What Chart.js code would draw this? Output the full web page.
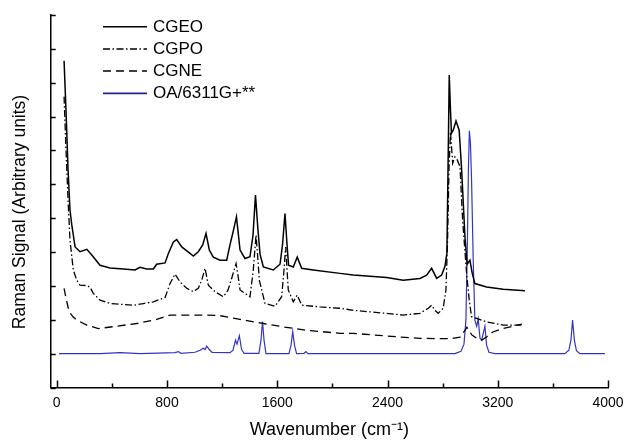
<!DOCTYPE html>
<html>
<head>
<meta charset="utf-8">
<script src="https://cdn.jsdelivr.net/npm/chart.js@4"></script>
<style>
  html, body { margin: 0; padding: 0; background: #fff; }
  #c { display: block; }
</style>
</head>
<body>
<canvas id="c" width="627" height="441"></canvas>
<script>
// ---- data (wavenumber in cm^-1, Raman signal in arbitrary offset units) ----
const seriesNames = ["CGEO", "CGPO", "CGNE", "OA/6311G+**"];

const cgeoX = [53, 67, 82, 96, 109, 133, 169, 218, 254, 314, 387, 483, 568, 604, 653, 701, 725, 786, 810, 846, 870, 907, 967, 991, 1027, 1059, 1083, 1107, 1136, 1185, 1233, 1257, 1279, 1304, 1330, 1366, 1402, 1424, 1442, 1460, 1475, 1499, 1571, 1620, 1638, 1656, 1671, 1682, 1716, 1745, 1777, 1861, 2055, 2152, 2394, 2514, 2635, 2684, 2720, 2757, 2793, 2817, 2831, 2841, 2848, 2857, 2864, 2877, 2897, 2920, 2938, 2962, 2978, 2998, 3015, 3034, 3119, 3240, 3397];
const cgeoY = [8.65, 7.19, 5.42, 4.24, 3.80, 3.15, 3.01, 3.08, 2.91, 2.61, 2.53, 2.50, 2.47, 2.55, 2.50, 2.50, 2.64, 2.68, 2.96, 3.30, 3.37, 3.15, 2.96, 2.88, 3.01, 3.21, 3.55, 3.06, 2.85, 2.76, 2.76, 3.21, 3.59, 4.04, 3.06, 2.81, 2.86, 3.50, 4.68, 3.65, 2.94, 2.56, 2.47, 2.64, 3.21, 4.14, 3.21, 2.61, 2.56, 2.85, 2.52, 2.47, 2.37, 2.32, 2.25, 2.17, 2.22, 2.32, 2.52, 2.22, 2.32, 2.58, 2.97, 6.01, 8.23, 7.19, 6.51, 6.60, 6.87, 6.60, 5.42, 3.45, 2.64, 2.76, 2.37, 2.07, 1.97, 1.90, 1.86];

const cgpoX = [53, 67, 82, 96, 120, 145, 169, 218, 242, 265, 314, 387, 483, 556, 628, 701, 786, 822, 858, 894, 943, 991, 1027, 1052, 1076, 1100, 1148, 1209, 1243, 1269, 1301, 1315, 1330, 1402, 1426, 1446, 1460, 1470, 1511, 1584, 1632, 1649, 1661, 1671, 1680, 1716, 1745, 1777, 1910, 2055, 2152, 2514, 2635, 2696, 2720, 2744, 2768, 2804, 2824, 2836, 2846, 2857, 2873, 2889, 2906, 2926, 2945, 2974, 2993, 3010, 3047, 3119, 3240, 3375];
const cgpoY = [7.59, 6.01, 4.53, 3.35, 2.47, 2.17, 2.02, 2.01, 1.96, 1.78, 1.58, 1.48, 1.45, 1.43, 1.48, 1.53, 1.66, 2.07, 2.35, 2.12, 1.93, 1.83, 1.93, 2.17, 2.52, 2.02, 1.83, 1.68, 1.88, 2.22, 2.66, 2.32, 1.88, 1.68, 2.47, 3.50, 2.76, 2.17, 1.48, 1.40, 1.68, 2.47, 3.15, 2.47, 1.88, 1.53, 1.73, 1.43, 1.38, 1.34, 1.28, 1.14, 1.19, 1.34, 1.43, 1.28, 1.19, 1.34, 1.88, 3.35, 5.42, 6.55, 5.62, 5.81, 5.72, 5.52, 3.94, 2.37, 1.58, 1.09, 1.04, 0.94, 0.84, 0.84];

const cgneX = [53, 67, 82, 96, 120, 145, 218, 302, 435, 580, 725, 822, 967, 1088, 1185, 1330, 1499, 1644, 1814, 2055, 2152, 2394, 2635, 2853, 2926, 2962, 2976, 3013, 3056, 3085, 3121, 3165, 3237, 3375];
const cgneY = [1.93, 1.64, 1.37, 1.20, 1.08, 0.99, 0.84, 0.74, 0.81, 0.89, 1.01, 1.14, 1.14, 1.14, 1.12, 1.01, 0.89, 0.79, 0.69, 0.60, 0.60, 0.52, 0.45, 0.44, 0.49, 0.69, 0.78, 0.55, 0.43, 0.40, 0.50, 0.64, 0.74, 0.87];

const oaX = [17, 314, 459, 604, 858, 882, 902, 1003, 1040, 1063, 1076, 1088, 1105, 1127, 1257, 1279, 1297, 1308, 1325, 1341, 1359, 1467, 1482, 1493, 1504, 1518, 1685, 1700, 1712, 1725, 1740, 1794, 1808, 1823, 2889, 2933, 2955, 2969, 2980, 2987, 2994, 3002, 3010, 3022, 3034, 3047, 3058, 3071, 3083, 3092, 3107, 3119, 3136, 3179, 3687, 3716, 3731, 3743, 3756, 3771, 3796, 3977];
const oaY = [0, 0, 0.03, 0, 0.03, 0.06, 0.01, 0.04, 0.10, 0.16, 0.12, 0.22, 0.13, 0.04, 0.03, 0.10, 0.40, 0.28, 0.53, 0.13, 0.01, 0.01, 0.40, 0.95, 0.40, 0, 0, 0.25, 0.65, 0.25, 0, 0.01, 0.06, 0, 0, 0.07, 0.28, 0.99, 3.35, 5.42, 6.58, 6.20, 5.13, 2.76, 0.99, 0.81, 1.03, 0.46, 0.40, 0.55, 0.81, 0.25, 0.04, 0, 0, 0.10, 0.40, 0.99, 0.40, 0.09, 0, 0];

const xTickValues = [0, 400, 800, 1200, 1600, 2000, 2400, 2800, 3200, 3600, 4000];
const xLabelStep = 800;
const yTickValues = [-1, 0, 1, 2, 3, 4, 5, 6, 7, 8, 9, 10];

const xTitle = "Wavenumber (cm\u207B\u00B9)";
const yTitle = "Raman Signal (Arbitrary units)";

// ---- build ----
const pts = (xs, ys) => xs.map((x, i) => ({ x: x, y: ys[i] }));

const datasets = [
  { label: seriesNames[0], data: pts(cgeoX, cgeoY), borderColor: '#000', borderWidth: 1.5, borderDash: [] },
  { label: seriesNames[1], data: pts(cgpoX, cgpoY), borderColor: '#000', borderWidth: 1.3, borderDash: [7, 2.5, 1.5, 2.5] },
  { label: seriesNames[2], data: pts(cgneX, cgneY), borderColor: '#000', borderWidth: 1.3, borderDash: [8, 5] },
  { label: seriesNames[3], data: pts(oaX, oaY), borderColor: '#3434c4', borderWidth: 1.2, borderDash: [] }
].map(d => Object.assign(d, { pointRadius: 0, tension: 0, fill: false, backgroundColor: d.borderColor }));

const FONT = "'Liberation Sans', Arial, sans-serif";

const inwardTicks = {
  id: 'inwardTicks',
  afterDraw(chart) {
    const { ctx, chartArea } = chart;
    const xs = chart.scales.x, ys = chart.scales.y;
    ctx.save();
    ctx.strokeStyle = '#000';
    ctx.lineWidth = 1.5;
    ctx.beginPath();
    xTickValues.forEach(v => {
      const px = Math.round(xs.getPixelForValue(v)) + 0.5;
      const len = (v % xLabelStep === 0) ? 7 : 4;
      ctx.moveTo(px, chartArea.bottom);
      ctx.lineTo(px, chartArea.bottom - len);
    });
    yTickValues.forEach(v => {
      const py = Math.round(ys.getPixelForValue(v)) + 0.5;
      ctx.moveTo(chartArea.left, py);
      ctx.lineTo(chartArea.left + 5, py);
    });
    ctx.stroke();
    ctx.restore();
  }
};

const legendAndTitle = {
  id: 'legendAndTitle',
  afterDraw(chart) {
    const { ctx } = chart;
    ctx.save();
    // legend
    chart.data.datasets.forEach((d, i) => {
      const y = 26.7 + i * 22.2;
      ctx.beginPath();
      ctx.setLineDash(d.borderDash);
      ctx.strokeStyle = i === 3 ? '#22228e' : d.borderColor;
      ctx.lineWidth = i === 3 ? 1.8 : 1.5;
      ctx.moveTo(103, y);
      ctx.lineTo(147, y);
      ctx.stroke();
      ctx.setLineDash([]);
      ctx.fillStyle = '#000';
      ctx.font = "17px " + FONT;
      ctx.textBaseline = 'middle';
      ctx.textAlign = 'left';
      ctx.fillText(d.label, 153, y + 0.5);
    });
    // y title
    ctx.translate(20, 212);
    ctx.rotate(-Math.PI / 2);
    ctx.font = "17.5px " + FONT;
    ctx.textAlign = 'center';
    ctx.textBaseline = 'middle';
    ctx.fillStyle = '#000';
    ctx.fillText(yTitle, 0, 0);
    ctx.restore();
  }
};

new Chart(document.getElementById('c'), {
  type: 'line',
  data: { datasets },
  options: {
    responsive: false,
    animation: false,
    devicePixelRatio: 1,
    layout: { padding: { left: 0, right: 19, top: 15, bottom: 0 } },
    plugins: { legend: { display: false }, tooltip: { enabled: false } },
    scales: {
      x: {
        type: 'linear',
        min: -44,
        max: 4000,
        afterBuildTicks: s => { s.ticks = xTickValues.map(v => ({ value: v })); },
        afterFit: s => { s.height = 53.5; s.paddingLeft = 0; s.paddingRight = 0; },
        ticks: {
          autoSkip: false,
          maxRotation: 0,
          padding: 7,
          color: '#000',
          font: { family: FONT, size: 14 },
          callback: v => (v % xLabelStep === 0 ? String(v) : '')
        },
        grid: { display: false, drawTicks: false },
        border: { display: true, color: '#000', width: 1.5 },
        title: {
          display: true,
          text: xTitle,
          color: '#000',
          font: { family: FONT, size: 18 },
          padding: { top: 0, bottom: 0 }
        }
      },
      y: {
        type: 'linear',
        min: -1,
        max: 10,
        afterBuildTicks: s => { s.ticks = yTickValues.map(v => ({ value: v })); },
        afterFit: s => { s.width = 50.7; s.paddingTop = 0; s.paddingBottom = 0; },
        ticks: { display: false },
        grid: { display: false, drawTicks: false },
        border: { display: true, color: '#000', width: 1.5 }
      }
    }
  },
  plugins: [inwardTicks, legendAndTitle]
});
</script>
</body>
</html>
